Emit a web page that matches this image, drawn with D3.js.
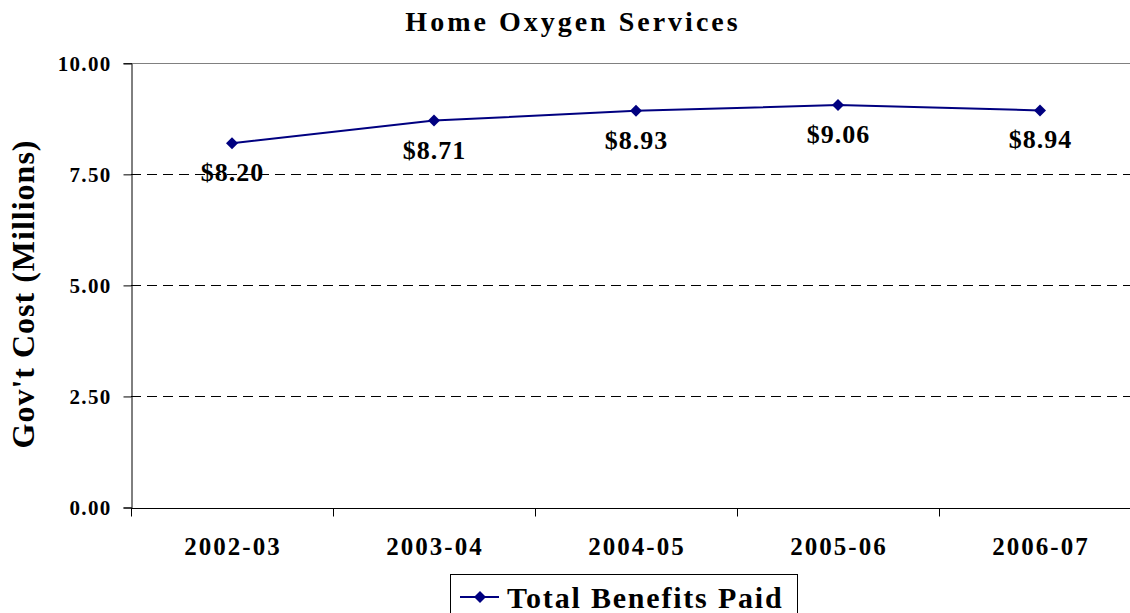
<!DOCTYPE html>
<html>
<head>
<meta charset="utf-8">
<script src="https://cdn.jsdelivr.net/npm/d3@7"></script>
<style>
  body { margin: 0; background: #fff; }
  svg { display: block; }
</style>
</head>
<body>
<div id="main"></div>
<script>
const categories = ["2002-03", "2003-04", "2004-05", "2005-06", "2006-07"];
const values = [8.20, 8.71, 8.93, 9.06, 8.94];
const yTicks = [0, 2.5, 5, 7.5, 10];
const seriesName = "Total Benefits Paid";

const width = 1130;
const height = 613;
const plotLeft = 131;
const plotTop = 63.3;
const plotBottom = 507.5;
const font = "'Liberation Serif'";

const svg = d3.select("#main").append("svg")
  .attr("width", width)
  .attr("height", height)
  .attr("font-family", font)
  .attr("font-weight", "bold");

const x = d3.scaleBand().domain(categories).range([plotLeft, plotLeft + 202 * 5]).padding(0);
const y = d3.scaleLinear().domain([0, 10]).range([plotBottom, plotTop]);
const cx = (d) => x(d) + x.bandwidth() / 2;

// gridlines
svg.append("g")
  .selectAll("line")
  .data(yTicks.filter((t) => t > 0 && t < 10))
  .enter()
  .append("line")
  .attr("x1", plotLeft)
  .attr("x2", width)
  .attr("y1", (d) => Math.round(y(d)) + 0.5)
  .attr("y2", (d) => Math.round(y(d)) + 0.5)
  .attr("stroke", "#000")
  .attr("stroke-dasharray", "10,6");

// top border
svg.append("line")
  .attr("x1", plotLeft).attr("x2", width)
  .attr("y1", Math.round(plotTop) + 0.5).attr("y2", Math.round(plotTop) + 0.5)
  .attr("stroke", "#808080");

// y axis
const yAxis = svg.append("g")
  .attr("transform", `translate(${plotLeft + 0.5},0)`)
  .call(d3.axisLeft(y).tickValues(yTicks).tickSize(8).tickPadding(12).tickFormat(d3.format(".2f")));
yAxis.attr("font-family", font).attr("font-size", 21);
yAxis.select(".domain").attr("stroke", "#000");
yAxis.selectAll(".tick line").attr("stroke", "#000");
yAxis.selectAll("text")
  .attr("letter-spacing", "1.3px")
  .attr("fill", "#000");

// x axis: boundary ticks
const xAxis = svg.append("g").attr("transform", `translate(0,${Math.round(plotBottom) + 0.5})`);
xAxis.append("line").attr("x1", plotLeft).attr("x2", width).attr("stroke", "#000");
xAxis.selectAll("line.tk")
  .data(categories)
  .enter()
  .append("line")
  .attr("class", "tk")
  .attr("x1", (d) => Math.round(x(d)) + 0.5)
  .attr("x2", (d) => Math.round(x(d)) + 0.5)
  .attr("y1", 0)
  .attr("y2", 8)
  .attr("stroke", "#000");
xAxis.selectAll("text")
  .data(categories)
  .enter()
  .append("text")
  .attr("x", (d) => cx(d) + 1)
  .attr("y", 46)
  .attr("text-anchor", "middle")
  .attr("font-size", 25)
  .attr("letter-spacing", "2px")
  .text((d) => d);

// line
const line = d3.line().x((d, i) => cx(categories[i])).y((d) => y(d));
svg.append("path")
  .datum(values)
  .attr("d", line)
  .attr("fill", "none")
  .attr("stroke", "#000080")
  .attr("stroke-width", 2);

const diamond = d3.symbol(d3.symbolSquare, 72);
svg.selectAll("path.pt")
  .data(values)
  .enter()
  .append("path")
  .attr("class", "pt")
  .attr("d", diamond)
  .attr("transform", (d, i) => `translate(${cx(categories[i])},${y(d)}) rotate(45)`)
  .attr("fill", "#000080");

// data labels
svg.selectAll("text.lbl")
  .data(values)
  .enter()
  .append("text")
  .attr("class", "lbl")
  .attr("x", (d, i) => cx(categories[i]) + 0.5)
  .attr("y", (d) => y(d) + 38)
  .attr("text-anchor", "middle")
  .attr("font-size", 26)
  .attr("letter-spacing", "1px")
  .text((d) => "$" + d.toFixed(2));

// title
svg.append("text")
  .attr("x", 573)
  .attr("y", 31)
  .attr("text-anchor", "middle")
  .attr("font-size", 28)
  .attr("letter-spacing", "3px")
  .text("Home Oxygen Services");

// y title
svg.append("text")
  .attr("transform", "translate(34,294) rotate(-90)")
  .attr("text-anchor", "middle")
  .attr("font-size", 32)
  .attr("letter-spacing", "1px")
  .text("Gov't Cost (Millions)");

// legend
const lg = svg.append("g");
lg.append("rect")
  .attr("x", 450.5).attr("y", 574.5)
  .attr("width", 347).attr("height", 60)
  .attr("fill", "#fff").attr("stroke", "#000");
lg.append("line")
  .attr("x1", 460).attr("x2", 499).attr("y1", 597).attr("y2", 597)
  .attr("stroke", "#000080").attr("stroke-width", 2);
lg.append("path")
  .attr("d", diamond)
  .attr("transform", "translate(480,597) rotate(45)")
  .attr("fill", "#000080");
lg.append("text")
  .attr("x", 507)
  .attr("y", 607.5)
  .attr("font-size", 30)
  .attr("letter-spacing", "1.8px")
  .text(seriesName);
</script>
</body>
</html>
